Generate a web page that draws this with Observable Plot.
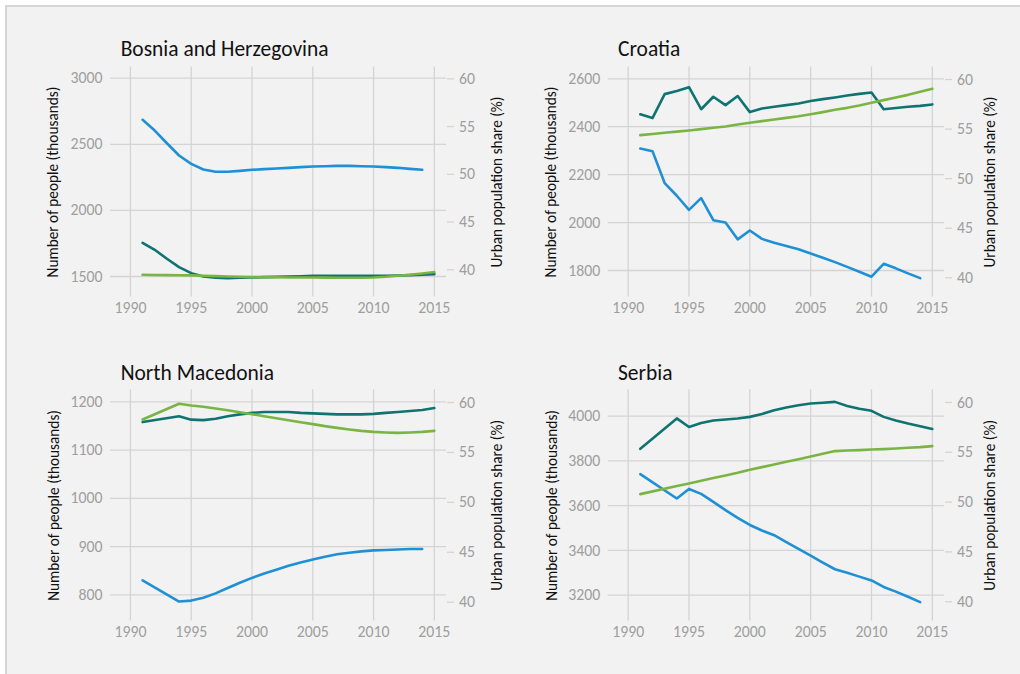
<!DOCTYPE html>
<html>
<head>
<meta charset="utf-8">
<script src="https://cdn.jsdelivr.net/npm/d3@7"></script>
<script src="https://cdn.jsdelivr.net/npm/@observablehq/plot@0.6"></script>
<style>
html, body { margin: 0; padding: 0; background: #ffffff; }
#page { position: relative; width: 1020px; height: 674px; overflow: hidden; font-family: Carlito, Calibri, Lato, sans-serif; }
#frame { position: absolute; left: 5px; top: 5px; width: 1030px; height: 700px; background: #f2f2f2; border: 2px solid #d6d6d6; box-sizing: border-box; }
.layer { position: absolute; }
.layer svg { overflow: visible; }
#titles { position: absolute; left: 0; top: 0; pointer-events: none; }
</style>
</head>
<body>
<div id="page"><div id="frame"></div></div>
<script>
// ---------------- data ----------------
const years = [1991, 1992, 1993, 1994, 1995, 1996, 1997, 1998, 1999, 2000, 2001, 2002, 2003,
               2004, 2005, 2006, 2007, 2008, 2009, 2010, 2011, 2012, 2013, 2014, 2015];

const countries = ["Bosnia and Herzegovina", "Croatia", "North Macedonia", "Serbia"];

// rural population (thousands) - blue
const bihRural = [2685, 2604, 2508, 2415, 2352, 2309, 2292, 2292, 2299, 2307, 2312, 2317, 2322, 2327, 2332, 2334, 2337, 2337, 2334, 2332, 2327, 2322, 2314, 2307, null];
// urban population (thousands) - teal
const bihUrban = [1755, 1702, 1634, 1571, 1525, 1500, 1490, 1487, 1490, 1492, 1495, 1497, 1500, 1502, 1505, 1505, 1505, 1505, 1505, 1505, 1506, 1508, 1510, 1513, 1518];
// urban population share (%) - green
const bihShare = [39.48, 39.46, 39.44, 39.43, 39.41, 39.37, 39.34, 39.30, 39.27, 39.23, 39.23, 39.22, 39.20, 39.20, 39.20, 39.18, 39.16, 39.16, 39.16, 39.20, 39.27, 39.37, 39.48, 39.62, 39.76];

const hrvRural = [2309, 2298, 2165, 2112, 2053, 2102, 2010, 2000, 1930, 1967, 1932, 1916, 1902, 1889, 1871, 1853, 1835, 1815, 1795, 1774, 1828, 1809, 1788, 1768, null];
const hrvUrban = [2452, 2436, 2536, 2549, 2565, 2473, 2525, 2490, 2528, 2461, 2476, 2483, 2490, 2497, 2507, 2515, 2522, 2530, 2537, 2543, 2473, 2478, 2483, 2487, 2493];
const hrvShare = [54.39, 54.50, 54.62, 54.74, 54.86, 54.99, 55.13, 55.26, 55.46, 55.63, 55.80, 55.97, 56.13, 56.30, 56.50, 56.71, 56.94, 57.14, 57.38, 57.65, 57.92, 58.18, 58.45, 58.76, 59.06];

const mkdRural = [830, null, null, 786, 788, 794, 803, 814, 825, 835, 844, 852, 860, 867, 873, 879, 884, 887, 890, 892, 893, 894, 895, 895, null];
const mkdUrban = [1158, null, null, 1170, 1163, 1162, 1165, 1170, 1174, 1177, 1179, 1179, 1179, 1177, 1176, 1175, 1174, 1174, 1174, 1175, 1177, 1179, 1181, 1183, 1187];
const mkdShare = [58.30, null, null, 59.87, 59.70, 59.57, 59.40, 59.23, 59.03, 58.83, 58.63, 58.43, 58.23, 58.03, 57.83, 57.63, 57.46, 57.30, 57.16, 57.06, 57.00, 56.96, 57.00, 57.06, 57.16];

const srbRural = [3741, null, null, 3632, 3675, 3653, 3617, 3580, 3546, 3514, 3489, 3468, 3437, 3407, 3377, 3346, 3316, 3300, 3283, 3266, 3237, 3216, 3193, 3169, null];
const srbUrban = [3854, null, null, 3990, 3952, 3970, 3981, 3985, 3990, 3997, 4010, 4027, 4039, 4049, 4057, 4060, 4064, 4046, 4033, 4024, 3997, 3981, 3967, 3955, 3943];
const srbShare = [50.80, null, null, 51.61, 51.87, 52.14, 52.41, 52.68, 52.94, 53.24, 53.51, 53.78, 54.05, 54.31, 54.58, 54.85, 55.12, 55.18, 55.22, 55.28, 55.32, 55.38, 55.45, 55.52, 55.62];

// tick labels
const xTicks = [1990, 1995, 2000, 2005, 2010, 2015];
const bihTicks = [1500, 2000, 2500, 3000];
const hrvTicks = [1800, 2000, 2200, 2400, 2600];
const mkdTicks = [800, 900, 1000, 1100, 1200];
const srbTicks = [3200, 3400, 3600, 3800, 4000];
const shareTicks = [40, 45, 50, 55, 60];

const leftTitle = "Number of people (thousands)";
const rightTitle = "Urban population share (%)";

// ---------------- styles ----------------
const FONT = "Carlito, Calibri, Lato, sans-serif";
const BLUE = "#1f90d5";
const TEAL = "#0f7470";
const GREEN = "#7ab543";
const GRID = "#d4d4d4";
const TICKTXT = "#9e9e9e";
const LW = 2.6;

// fit font sizes to the widths of the reference text
const ctx = document.createElement("canvas").getContext("2d");
function fitSize(text, target) {
  ctx.font = "100px " + FONT;
  return 100 * target / ctx.measureText(text).width;
}
const titleSize = fitSize(countries[0], 208);
const tickSize = fitSize("3000", 32);
const leftTitleSize = fitSize(leftTitle, 191);
const rightTitleSize = fitSize(rightTitle, 171);

const W = 510, H = 290;
const xDomain = [1988.36, 2016.0];

const panels = [
  {name: countries[0], rural: bihRural, urban: bihUrban, share: bihShare, ticks: bihTicks,
   yDomain: [1344.9, 3084.7], rDomain: [37.15, 61.24],
   L: 0, T: 40, mL: 110, mR: 64, mT: 26.5, mB: 33.5, lc: 53.8, rc: 494.2, tx: 121.7, tb: 56},
  {name: countries[1], rural: hrvRural, urban: hrvUrban, share: hrvShare, ticks: hrvTicks,
   yDomain: [1689.4, 2649.2], rDomain: [38.06, 61.26],
   L: 500, T: 40, mL: 107.7, mR: 66, mT: 26.5, mB: 33.5, lc: 551.8, rc: 987.2, tx: 619, tb: 56},
  {name: countries[2], rural: mkdRural, urban: mkdUrban, share: mkdShare, ticks: mkdTicks,
   yDomain: [745.7, 1224.9], rDomain: [38.12, 61.27],
   L: 0, T: 360, mL: 110, mR: 64, mT: 29.3, mB: 29.5, lc: 54.2, rc: 494.7, tx: 121.7, tb: 380},
  {name: countries[3], rural: srbRural, urban: srbUrban, share: srbShare, ticks: srbTicks,
   yDomain: [3084.7, 4118], rDomain: [38.07, 61.27],
   L: 500, T: 360, mL: 107.7, mR: 66, mT: 29.3, mB: 29.5, lc: 552, rc: 987.2, tx: 619, tb: 380}
];

const page = document.getElementById("page");
const titleSvg = d3.create("svg").attr("id", "titles").attr("width", 1020).attr("height", 674);

for (const p of panels) {
  const rows = years.map((year, i) => ({year, rural: p.rural[i], urban: p.urban[i], share: p.share[i]}));
  const common = {
    width: W, height: H,
    marginLeft: p.mL, marginRight: p.mR, marginTop: p.mT, marginBottom: p.mB,
    style: {background: "transparent", fontFamily: FONT, overflow: "visible"}
  };
  // label offsets computed so that the rotated titles sit where the reference has them
  const leftOff = p.mL - (p.lc - p.L - 0.44 * leftTitleSize);
  const rightOff = (p.rc - p.L + 0.565 * rightTitleSize) - (W - p.mR) - 1.5;

  const base = Plot.plot({
    ...common,
    x: {domain: xDomain},
    y: {domain: p.yDomain},
    marks: [
      Plot.gridX(xTicks, {stroke: GRID, strokeOpacity: 1, strokeWidth: 1.3}),
      Plot.gridY(p.ticks, {stroke: GRID, strokeOpacity: 1, strokeWidth: 1.3}),
      Plot.axisX(xTicks, {tickSize: 0, tickPadding: 15.8 - 0.71 * tickSize, tickFormat: d => String(d), label: null, fill: TICKTXT, fontSize: tickSize}),
      Plot.axisY(p.ticks, {anchor: "left", tickSize: 0, tickPadding: 8, tickFormat: d => String(d), label: null, fill: TICKTXT, fontSize: tickSize}),
      Plot.axisY([], {anchor: "left", label: leftTitle, labelAnchor: "center", labelArrow: "none", labelOffset: leftOff, fill: "#111", fontSize: leftTitleSize}),
      Plot.line(rows, {filter: d => d.rural != null, x: "year", y: "rural", stroke: BLUE, strokeWidth: LW}),
      Plot.line(rows, {filter: d => d.urban != null, x: "year", y: "urban", stroke: TEAL, strokeWidth: LW})
    ]
  });

  const over = Plot.plot({
    ...common,
    x: {domain: xDomain, axis: null},
    y: {domain: p.rDomain},
    marks: [
      Plot.axisY(shareTicks, {anchor: "right", tickSize: 7, tickPadding: 5.5, stroke: GRID, strokeWidth: 1.3, tickFormat: d => String(d), label: null, fill: TICKTXT, fontSize: tickSize}),
      Plot.axisY([], {anchor: "right", label: rightTitle, labelAnchor: "center", labelArrow: "none", labelOffset: rightOff, fill: "#111", fontSize: rightTitleSize}),
      Plot.line(rows, {filter: d => d.share != null, x: "year", y: "share", stroke: GREEN, strokeWidth: LW})
    ]
  });

  for (const svg of [base, over]) {
    const div = document.createElement("div");
    div.className = "layer";
    div.style.left = p.L + "px";
    div.style.top = p.T + "px";
    div.appendChild(svg);
    page.appendChild(div);
  }

  titleSvg.append("text")
    .attr("x", p.tx - 1)
    .attr("y", p.tb)
    .attr("font-family", FONT)
    .attr("font-size", titleSize)
    .attr("fill", "#111")
    .text(p.name);
}
page.appendChild(titleSvg.node());
</script>
</body>
</html>
